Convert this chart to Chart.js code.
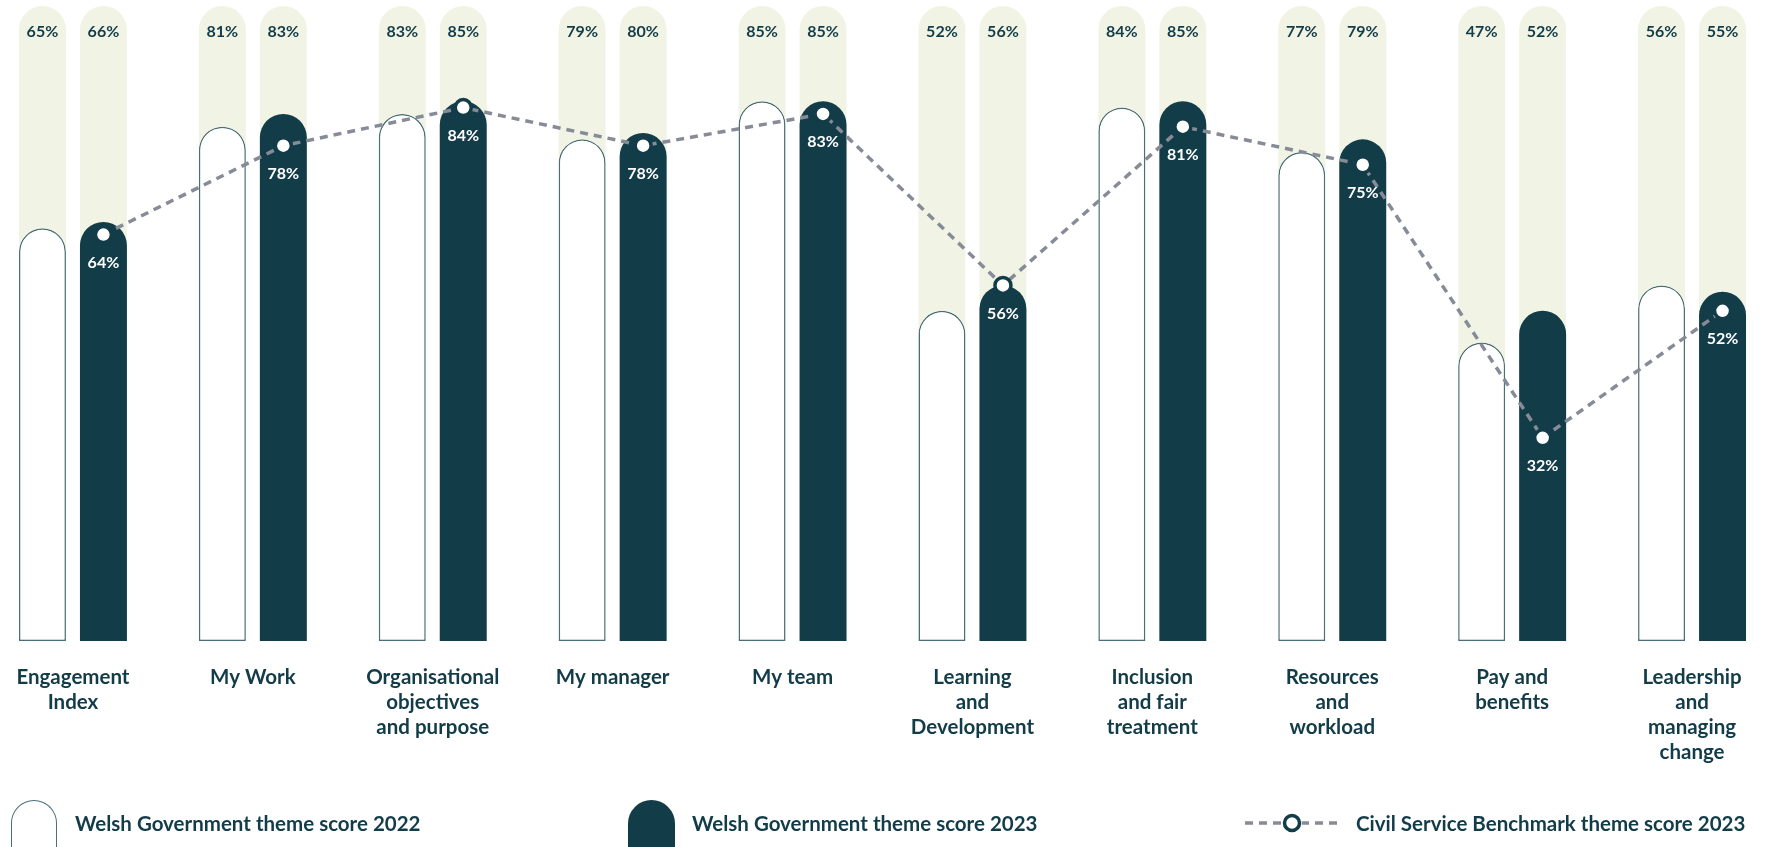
<!DOCTYPE html>
<html>
<head>
<meta charset="utf-8">
<script src="https://cdn.jsdelivr.net/npm/chart.js@4.4.1/dist/chart.umd.min.js"></script>
<style>
  html, body { margin: 0; padding: 0; background: #fff; width: 1765px; height: 847px; overflow: hidden; }
  #wrap { position: absolute; left: -17px; top: 0; width: 1799px; height: 847px; }
  .lg { position: absolute; font-family: Lato, sans-serif; font-weight: 700; font-size: 20.5px; color: #133c49; }
  .lg-text { top: 810px; height: 26px; line-height: 26px; white-space: nowrap; }
  .icon { position: absolute; top: 800px; height: 60px; box-sizing: border-box; border-radius: 23.5px 23.5px 0 0; }
  .icon22 { left: 11px; width: 46px; border: 1.5px solid #4b6f78; border-bottom: none; background: #fff; }
  .icon23 { left: 628px; width: 47px; background: #133c49; }
  #bench { position: absolute; left: 1240px; top: 808px; }
</style>
</head>
<body>
<div id="wrap"><canvas id="themeChart"></canvas></div>

<div class="icon icon22"></div>
<div class="lg lg-text" style="left:75px">Welsh Government theme score 2022</div>
<div class="icon icon23"></div>
<div class="lg lg-text" style="left:692px">Welsh Government theme score 2023</div>
<svg id="bench" width="104" height="30">
  <line x1="5" y1="15" x2="99" y2="15" stroke="#868b97" stroke-width="3.5" stroke-dasharray="8 6"/>
  <circle cx="52" cy="15" r="10" fill="#fff"/>
  <circle cx="52" cy="15" r="7.5" fill="#fff" stroke="#133c49" stroke-width="3.5"/>
</svg>
<div class="lg lg-text" style="left:1356px">Civil Service Benchmark theme score 2023</div>

<script>
const categories = [
  ['Engagement', 'Index'],
  ['My Work'],
  ['Organisational', 'objectives', 'and purpose'],
  ['My manager'],
  ['My team'],
  ['Learning', 'and', 'Development'],
  ['Inclusion', 'and fair', 'treatment'],
  ['Resources', 'and', 'workload'],
  ['Pay and', 'benefits'],
  ['Leadership', 'and', 'managing', 'change']
];
const score2022 = [65, 81, 83, 79, 85, 52, 84, 77, 47, 56];
const score2023 = [66, 83, 85, 80, 85, 56, 85, 79, 52, 55];
const benchmark2023 = [64, 78, 84, 78, 83, 56, 81, 75, 32, 52];
const scaleMax = 100;

const DARK = '#133c49';
const PALE = '#f1f4e4';
const GREY = '#868b97';
const FONT = 'Lato, sans-serif';

// pale 100% track behind each bar
const trackPlugin = {
  id: 'tracks',
  beforeDatasetsDraw(chart) {
    const ctx = chart.ctx;
    const top = chart.scales.y.getPixelForValue(scaleMax);
    const bottom = chart.scales.y.getPixelForValue(0);
    ctx.save();
    ctx.fillStyle = PALE;
    [0, 1].forEach(di => {
      chart.getDatasetMeta(di).data.forEach(bar => {
        const r = bar.width / 2;
        ctx.beginPath();
        ctx.moveTo(bar.x - r, bottom);
        ctx.lineTo(bar.x - r, top + r);
        ctx.arc(bar.x, top + r, r, Math.PI, 0);
        ctx.lineTo(bar.x + r, bottom);
        ctx.closePath();
        ctx.fill();
      });
    });
    ctx.restore();
  }
};

// benchmark points sit on the 2023 bar
const alignPlugin = {
  id: 'alignBenchmark',
  afterDatasetsUpdate(chart) {
    const bars = chart.getDatasetMeta(1).data;
    chart.getDatasetMeta(2).data.forEach((pt, i) => { pt.x = bars[i].x; });
  }
};

const labelPlugin = {
  id: 'valueLabels',
  afterDatasetsDraw(chart) {
    const ctx = chart.ctx;
    const top = chart.scales.y.getPixelForValue(scaleMax);
    ctx.save();
    ctx.font = 'bold 16px ' + FONT;
    ctx.textAlign = 'center';
    ctx.textBaseline = 'middle';
    ctx.fillStyle = DARK;
    [0, 1].forEach(di => {
      const vals = chart.data.datasets[di].data;
      chart.getDatasetMeta(di).data.forEach((bar, i) => {
        ctx.fillText(vals[i] + '%', bar.x, top + 26);
      });
    });
    ctx.fillStyle = '#fff';
    const line = chart.data.datasets[2].data;
    chart.getDatasetMeta(2).data.forEach((pt, i) => {
      ctx.fillText(line[i] + '%', pt.x, pt.y + 28);
    });
    ctx.restore();
  }
};

const radius = { topLeft: 24, topRight: 24, bottomLeft: 0, bottomRight: 0 };

new Chart(document.getElementById('themeChart'), {
  type: 'bar',
  data: {
    labels: categories,
    datasets: [
      {
        label: 'Welsh Government theme score 2022',
        data: score2022,
        backgroundColor: '#fff',
        borderColor: '#4b6f78',
        borderWidth: 1.5,
        borderSkipped: false,
        borderRadius: radius,
        barPercentage: 0.77,
        categoryPercentage: 0.678,
        order: 1
      },
      {
        label: 'Welsh Government theme score 2023',
        data: score2023,
        backgroundColor: DARK,
        borderWidth: 0,
        borderRadius: radius,
        barPercentage: 0.77,
        categoryPercentage: 0.678,
        order: 1
      },
      {
        type: 'line',
        label: 'Civil Service Benchmark theme score 2023',
        data: benchmark2023,
        borderColor: GREY,
        borderWidth: 3.5,
        borderDash: [8, 6],
        tension: 0,
        pointRadius: 8,
        pointBorderWidth: 3.5,
        pointBackgroundColor: '#fff',
        pointBorderColor: DARK,
        clip: false,
        order: 0
      }
    ]
  },
  options: {
    responsive: true,
    maintainAspectRatio: false,
    animation: false,
    layout: { autoPadding: false, padding: { top: 6, left: 0, right: 0, bottom: 0 } },
    plugins: {
      legend: { display: false },
      tooltip: { enabled: false }
    },
    scales: {
      x: {
        grid: { display: false, drawTicks: false },
        border: { display: false },
        ticks: {
          color: DARK,
          padding: 23.5,
          maxRotation: 0,
          autoSkip: false,
          font: { family: FONT, size: 20.5, weight: 'bold', lineHeight: 25 / 20.5 }
        },
        afterFit(scale) { scale.height = 206; }
      },
      y: {
        display: false,
        min: 0,
        max: scaleMax
      }
    }
  },
  plugins: [trackPlugin, alignPlugin, labelPlugin]
});
</script>
</body>
</html>
